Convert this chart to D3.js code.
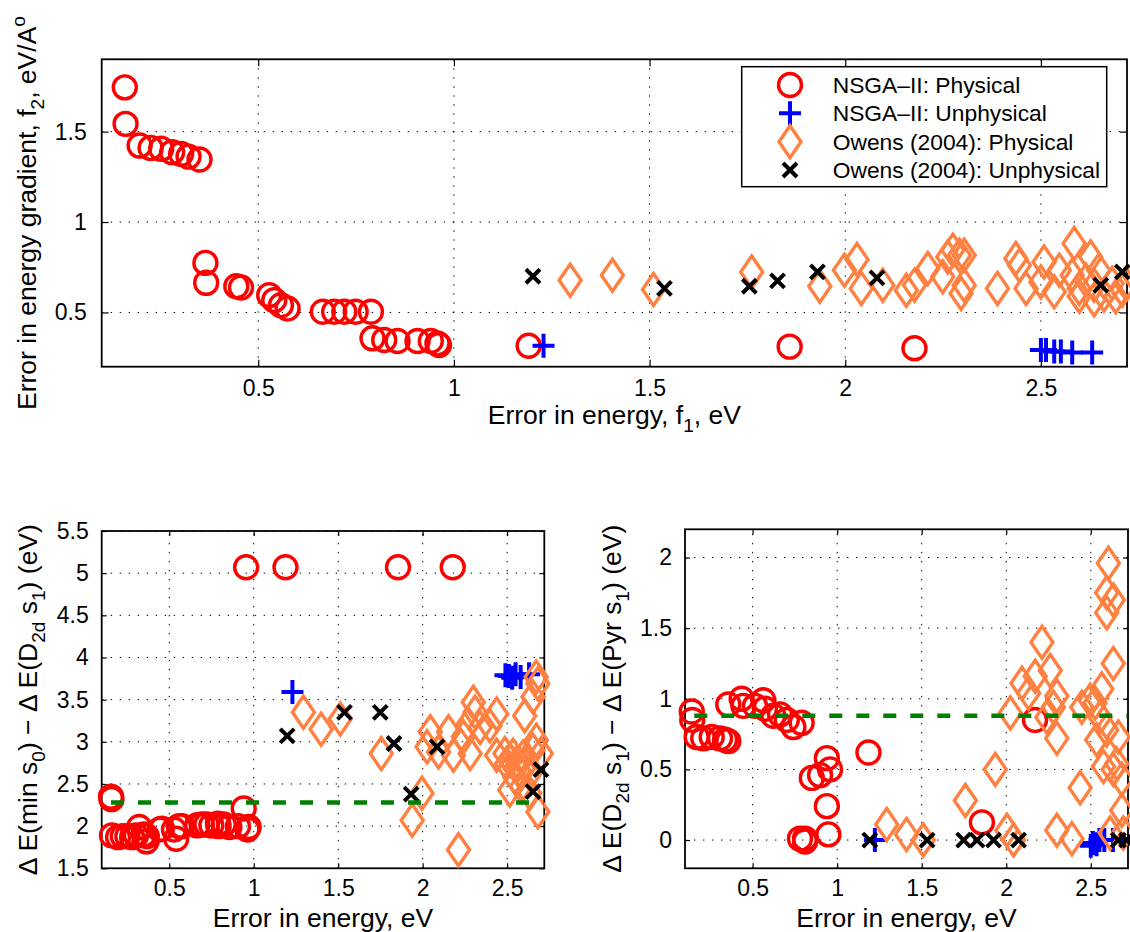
<!DOCTYPE html>
<html><head><meta charset="utf-8">
<script src="https://cdn.jsdelivr.net/npm/d3@7"></script>
<style>body{margin:0;background:#fff} text{font-family:"Liberation Sans",Arial,Helvetica,sans-serif;fill:#000}</style>
</head><body><svg id="c" width="1130" height="932"></svg>
<script>
// ---------- DATA ----------
const legendLabels = ["NSGA\u2013II: Physical","NSGA\u2013II: Unphysical","Owens (2004): Physical","Owens (2004): Unphysical"];
const xTicks = [0.5,1,1.5,2,2.5];
const topYTicks = [0.5,1,1.5];
const blYTicks = [1.5,2,2.5,3,3.5,4,4.5,5,5.5];
const brYTicks = [0,0.5,1,1.5,2];
const xDomain = [0.1,2.72];
const topYDomain = [0.2,1.9];
const blYDomain = [1.5,5.5];
const brYDomain = [-0.2,2.2];
const refX = [0.155,2.717];
const refLeft = 2.28;
const refRight = 0.88;

// top panel: f1 vs f2
const topNsgaPhys = [[0.159,1.745],[0.161,1.543],[0.197,1.423],[0.225,1.41],[0.252,1.405],[0.28,1.386],[0.303,1.377],[0.322,1.362],[0.35,1.346],[0.365,0.774],[0.367,0.664],[0.444,0.645],[0.456,0.638],[0.528,0.596],[0.541,0.568],[0.558,0.54],[0.575,0.522],[0.665,0.504],[0.694,0.504],[0.72,0.504],[0.749,0.504],[0.788,0.504],[0.792,0.357],[0.822,0.348],[0.856,0.342],[0.907,0.342],[0.941,0.342],[0.958,0.329],[0.962,0.32],[1.191,0.316],[1.858,0.311],[2.177,0.302]];
const topNsgaUnphys = [[1.229,0.316],[2.5,0.292],[2.513,0.292],[2.534,0.284],[2.551,0.284],[2.58,0.278],[2.631,0.278]];
const topOwensPhys = [[1.297,0.678],[1.405,0.706],[1.51,0.627],[1.761,0.724],[1.935,0.645],[1.998,0.734],[2.03,0.793],[2.041,0.633],[2.096,0.651],[2.156,0.623],[2.177,0.651],[2.211,0.743],[2.249,0.697],[2.262,0.807],[2.275,0.844],[2.292,0.816],[2.304,0.816],[2.296,0.605],[2.304,0.651],[2.389,0.633],[2.436,0.798],[2.445,0.761],[2.462,0.633],[2.508,0.779],[2.5,0.669],[2.534,0.614],[2.547,0.734],[2.585,0.881],[2.58,0.706],[2.598,0.633],[2.627,0.807],[2.636,0.651],[2.648,0.734],[2.661,0.596],[2.682,0.66],[2.691,0.587],[2.708,0.623],[2.717,0.66],[2.615,0.678],[2.598,0.59],[2.636,0.57]];
const topOwensUnphys = [[1.202,0.70],[1.538,0.633],[1.755,0.645],[1.827,0.675],[1.929,0.724],[2.081,0.691],[2.653,0.651],[2.708,0.724]];

// bottom-left panel
const blNsgaPhys = [[0.155,2.35],[0.158,2.32],[0.161,1.89],[0.197,1.87],[0.225,1.88],[0.252,1.88],[0.28,1.87],[0.303,1.89],[0.322,1.99],[0.35,1.90],[0.365,1.82],[0.367,1.88],[0.444,1.96],[0.456,1.97],[0.528,1.96],[0.541,1.85],[0.558,2.00],[0.575,2.00],[0.665,2.01],[0.694,2.02],[0.72,2.02],[0.749,2.01],[0.788,2.03],[0.792,2.00],[0.822,2.02],[0.856,1.99],[0.907,2.00],[0.941,2.21],[0.955,5.07],[0.962,1.96],[0.97,1.99],[1.188,5.07],[1.854,5.07],[2.178,5.07]];
const blNsgaUnphys = [[1.229,3.59],[2.49,3.79],[2.51,3.78],[2.53,3.76],[2.55,3.80],[2.58,3.77],[2.63,3.80]];
const blOwensPhys = [[1.294,3.35],[1.399,3.15],[1.512,3.27],[1.755,2.86],[1.938,2.07],[1.996,2.39],[2.026,2.94],[2.045,3.12],[2.094,2.88],[2.153,3.12],[2.182,2.84],[2.212,1.72],[2.241,3.06],[2.27,3.21],[2.281,2.86],[2.30,3.47],[2.31,3.35],[2.34,3.17],[2.398,3.19],[2.438,3.33],[2.438,2.84],[2.487,2.86],[2.496,2.74],[2.516,2.43],[2.52,2.78],[2.535,2.84],[2.545,2.58],[2.555,2.70],[2.56,2.76],[2.57,2.66],[2.584,2.47],[2.594,2.82],[2.604,3.31],[2.61,2.72],[2.634,2.62],[2.634,2.39],[2.653,3.53],[2.653,2.90],[2.672,3.77],[2.673,3.02],[2.682,3.69],[2.682,2.17],[2.702,2.86]];
const blOwensUnphys = [[1.198,3.07],[1.537,3.35],[1.749,3.35],[1.83,2.98],[1.932,2.38],[2.085,2.94],[2.653,2.41],[2.70,2.67]];

// bottom-right panel
const brNsgaPhys = [[0.14,0.91],[0.143,0.85],[0.169,0.73],[0.208,0.72],[0.258,0.73],[0.307,0.72],[0.337,0.71],[0.356,0.70],[0.356,0.96],[0.435,1.00],[0.445,0.95],[0.514,0.95],[0.563,0.99],[0.573,0.93],[0.622,0.88],[0.662,0.89],[0.702,0.85],[0.741,0.80],[0.79,0.83],[0.85,0.44],[0.899,0.46],[0.939,0.58],[0.958,0.50],[0.939,0.24],[0.948,0.04],[0.78,0.01],[0.81,-0.01],[0.81,0.01],[1.185,0.62],[1.856,0.125],[2.17,0.85]];
const brNsgaUnphys = [[1.223,0.0],[2.50,-0.04],[2.513,-0.02],[2.534,-0.03],[2.551,0.0],[2.58,0.0],[2.631,0.0]];
const brOwensPhys = [[1.293,0.11],[1.41,0.04],[1.509,0.0],[1.758,0.28],[1.935,0.50],[2.004,0.07],[2.043,0.0],[2.024,0.90],[2.093,1.11],[2.132,1.04],[2.171,1.16],[2.211,1.40],[2.26,1.20],[2.279,0.94],[2.299,1.02],[2.299,0.72],[2.24,0.87],[2.299,0.07],[2.388,0.01],[2.437,0.37],[2.447,0.94],[2.496,0.99],[2.525,0.97],[2.565,1.07],[2.535,0.71],[2.594,0.78],[2.604,1.96],[2.594,1.75],[2.633,1.70],[2.594,1.61],[2.633,1.25],[2.663,0.73],[2.575,0.52],[2.653,0.54],[2.683,0.43],[2.683,0.21],[2.614,0.05],[2.692,0.05],[2.555,0.87],[2.633,0.50]];
const brOwensUnphys = [[1.193,0],[1.532,0],[1.748,0],[1.827,0],[1.925,0],[2.073,0],[2.663,0],[2.712,0]];

// ---------- STYLE ----------
const COLORS = {red:"#ff0000", blue:"#0000ff", orange:"#ff8040", black:"#000000", green:"#008000"};
const MARKERS = {
  circle:{d:d3.arc()({innerRadius:0,outerRadius:11.5,startAngle:0,endAngle:2*Math.PI}) , sw:3.4},
  plus:{d:"M-11,0H11M0,-12V12", sw:4},
  diamond:{d:"M0,-16L11,0L0,16L-11,0Z", sw:3.4},
  cross:{d:"M-7,-7L7,7M-7,7L7,-7", sw:4}
};
const seriesStyle = [
  {m:"circle", c:COLORS.red},
  {m:"plus", c:COLORS.blue},
  {m:"diamond", c:COLORS.orange},
  {m:"cross", c:COLORS.black}
];
const TICK_FS = 23, LEGEND_FS = 22.8, LABEL_FS = 26.5;

const svg = d3.select("#c");

function richText(sel, segs, fs){
  let shift = 0;
  segs.forEach(s=>{
    const t = sel.append("tspan").text(s.t);
    let target = 0, size = fs;
    if(s.sub){target = fs*0.32; size = fs*0.72;}
    if(s.sup){target = -fs*0.42; size = fs*0.72;}
    t.attr("font-size", size);
    if(target !== shift){ t.attr("dy", target - shift); shift = target; }
  });
}

function drawPanel(o){
  const g = svg.append("g");
  const x = d3.scaleLinear().domain(o.xDomain).range([o.left,o.right]);
  const y = d3.scaleLinear().domain(o.yDomain).range([o.bottom,o.top]);
  const grid = g.append("g").attr("stroke","#000").attr("stroke-width",1).attr("stroke-dasharray","1.4,7.6");
  o.xTicks.forEach(v=>grid.append("line").attr("x1",x(v)).attr("x2",x(v)).attr("y1",o.bottom).attr("y2",o.top));
  o.yTicks.forEach(v=>grid.append("line").attr("y1",y(v)).attr("y2",y(v)).attr("x1",o.left).attr("x2",o.right));
  const tl = o.tickLen;
  const ax = (gen, tr) => g.append("g").attr("transform",tr).call(gen);
  const bottomAx = ax(d3.axisBottom(x).tickValues(o.xTicks).tickSize(-tl).tickPadding(tl+6).tickFormat(d3.format("")), `translate(0,${o.bottom})`);
  const topAx = ax(d3.axisTop(x).tickValues(o.xTicks).tickSize(-tl).tickFormat(""), `translate(0,${o.top})`);
  const leftAx = ax(d3.axisLeft(y).tickValues(o.yTicks).tickSize(-tl).tickPadding(tl+8).tickFormat(d3.format("")), `translate(${o.left},0)`);
  const rightAx = ax(d3.axisRight(y).tickValues(o.yTicks).tickSize(-tl).tickFormat(""), `translate(${o.right},0)`);
  [bottomAx,topAx,leftAx,rightAx].forEach(a=>{
    a.select(".domain").remove();
    a.selectAll("line").attr("stroke","#000").attr("stroke-width",1.2);
    a.selectAll("text").attr("font-size",TICK_FS).attr("font-family","Liberation Sans, Arial, sans-serif").attr("fill","#000");
  });
  bottomAx.selectAll("text").attr("dy","0.71em");
  g.append("rect").attr("x",o.left).attr("y",o.top).attr("width",o.right-o.left).attr("height",o.bottom-o.top)
    .attr("fill","none").attr("stroke","#000").attr("stroke-width",1.8);
  o.series.forEach((data,i)=>{
    const st = seriesStyle[i], mk = MARKERS[st.m];
    g.append("g").selectAll("path").data(data).join("path")
      .attr("d",mk.d).attr("transform",d=>`translate(${x(d[0])},${y(d[1])})`)
      .attr("fill","none").attr("stroke",st.c).attr("stroke-width",mk.sw).attr("stroke-linejoin","miter");
  });
  if(o.ref !== undefined){
    g.append("line").attr("x1",x(refX[0])).attr("x2",x(refX[1])).attr("y1",y(o.ref)).attr("y2",y(o.ref))
      .attr("stroke",COLORS.green).attr("stroke-width",4.5).attr("stroke-dasharray","13,14");
  }
  const xl = g.append("text").attr("x",(o.left+o.right)/2).attr("y",o.xLabelY).attr("text-anchor","middle").attr("font-size",LABEL_FS);
  richText(xl,o.xLabel,LABEL_FS);
  const cy = (o.top+o.bottom)/2;
  const yl = g.append("text").attr("transform",`translate(${o.yLabelX},${cy}) rotate(-90)`).attr("text-anchor","middle").attr("font-size",LABEL_FS);
  richText(yl,o.yLabel,LABEL_FS);
  return {g,x,y};
}

drawPanel({
  left:101.7,right:1127,top:59.3,bottom:366.7,tickLen:7,
  xDomain, yDomain:topYDomain, xTicks, yTicks:topYTicks,
  series:[topNsgaPhys,topNsgaUnphys,topOwensPhys,topOwensUnphys],
  xLabelY:424, yLabelX:36,
  xLabel:[{t:"Error in energy, f"},{t:"1",sub:true},{t:", eV"}],
  yLabel:[{t:"Error in energy gradient, f"},{t:"2",sub:true},{t:", eV/A"},{t:"o",sup:true}]
});
drawPanel({
  left:101.7,right:544.3,top:531,bottom:868.3,tickLen:5,
  xDomain, yDomain:blYDomain, xTicks, yTicks:blYTicks,
  series:[blNsgaPhys,blNsgaUnphys,blOwensPhys,blOwensUnphys], ref:refLeft,
  xLabelY:927, yLabelX:37,
  xLabel:[{t:"Error in energy, eV"}],
  yLabel:[{t:"\u0394 E(min s"},{t:"0",sub:true},{t:") \u2212 \u0394 E(D"},{t:"2d",sub:true},{t:" s"},{t:"1",sub:true},{t:") (eV)"}]
});
drawPanel({
  left:685,right:1128,top:529.3,bottom:868.3,tickLen:5,
  xDomain, yDomain:brYDomain, xTicks, yTicks:brYTicks,
  series:[brNsgaPhys,brNsgaUnphys,brOwensPhys,brOwensUnphys], ref:refRight,
  xLabelY:927, yLabelX:621,
  xLabel:[{t:"Error in energy, eV"}],
  yLabel:[{t:"\u0394 E(D"},{t:"2d",sub:true},{t:" s"},{t:"1",sub:true},{t:") \u2212 \u0394 E(Pyr s"},{t:"1",sub:true},{t:") (eV)"}]
});

const lg = svg.append("g");
lg.append("rect").attr("x",741.7).attr("y",66.7).attr("width",365).attr("height",120).attr("fill","#fff").attr("stroke","#000").attr("stroke-width",1.5);
const rowY = d3.scalePoint().domain(d3.range(legendLabels.length)).range([85,170]);
legendLabels.forEach((lab,i)=>{
  const st = seriesStyle[i], mk = MARKERS[st.m];
  lg.append("path").attr("d",mk.d).attr("transform",`translate(790,${rowY(i)})`).attr("fill","none").attr("stroke",st.c).attr("stroke-width",mk.sw);
  lg.append("text").attr("x",832.7).attr("y",rowY(i)).attr("dy","0.35em").attr("font-size",LEGEND_FS).text(lab);
});
</script></body></html>
